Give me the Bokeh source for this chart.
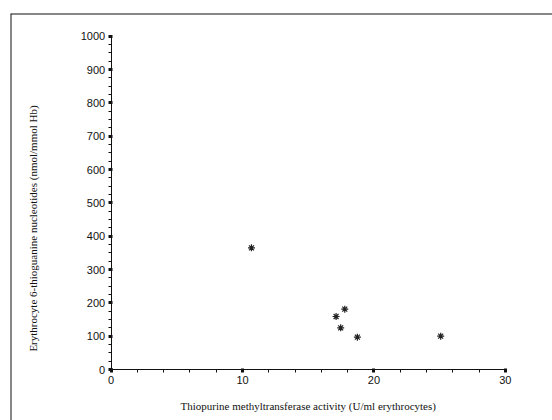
import math
from bokeh.plotting import figure
from bokeh.models import LinearAxis, Span, Label, FixedTicker, Range1d
from bokeh.embed import file_html
from bokeh.resources import INLINE

# Data
tpmt_activity = [10.68, 17.78, 17.12, 17.47, 18.74, 25.08]
tgn_levels = [365, 181, 159, 125, 97, 100]
x_ticks = [0, 10, 20, 30]
y_ticks = [0, 100, 200, 300, 400, 500, 600, 700, 800, 900, 1000]
x_minor = [v for v in range(0, 31, 2) if v % 10]
y_minor = [v for v in range(0, 1001, 25) if v % 100]

x_title = "Thiopurine methyltransferase activity (U/ml erythrocytes)"
y_title = "Erythrocyte 6-thioguanine nucleotides (nmol/mmol Hb)"

p = figure(width=552, height=420, output_backend="svg", toolbar_location=None,
           x_range=Range1d(-7.66, 33.59), y_range=Range1d(-153, 1068),
           x_axis_location=None, y_axis_location=None,
           min_border_left=10, min_border_top=13, min_border_right=0, min_border_bottom=0)
p.outline_line_color = None
p.xgrid.visible = False
p.ygrid.visible = False
p.background_fill_color = None
p.border_fill_color = None

def style_axis(ax):
    ax.axis_line_color = "#111111"
    ax.axis_line_width = 1
    ax.major_tick_line_color = "#111111"
    ax.major_tick_line_width = 3
    ax.major_tick_in = 1
    ax.major_tick_out = 3
    ax.minor_tick_line_color = "#111111"
    ax.minor_tick_line_width = 1
    ax.minor_tick_in = 0
    ax.minor_tick_out = 3
    ax.major_label_text_font = "Liberation Sans"
    ax.major_label_text_font_size = "11px"
    ax.major_label_text_color = "#111111"

xaxis = LinearAxis(fixed_location=0, bounds=(0, 30),
                   ticker=FixedTicker(ticks=x_ticks, minor_ticks=x_minor))
style_axis(xaxis)
xaxis.major_label_standoff = 3
p.add_layout(xaxis, "below")

yaxis = LinearAxis(fixed_location=0, bounds=(0, 1000),
                   ticker=FixedTicker(ticks=y_ticks, minor_ticks=y_minor))
style_axis(yaxis)
yaxis.major_label_standoff = 3
p.add_layout(yaxis, "left")

# border lines (left and top of the panel)
p.add_layout(Span(location=-7.66, dimension="height", line_color="#111111", line_width=2))
p.add_layout(Span(location=1068, dimension="width", line_color="#111111", line_width=2))

p.scatter(tpmt_activity, tgn_levels, marker="asterisk", size=7,
          line_color="#222222", line_width=1.2)

p.add_layout(Label(x=15, y=-108, text=x_title, text_align="center", text_baseline="middle",
                   text_font="Liberation Serif", text_font_size="11px", text_color="#111111"))
p.add_layout(Label(x=-5.91, y=423, text=y_title, text_align="center", text_baseline="middle",
                   angle=math.pi / 2, text_font="Liberation Serif", text_font_size="11px",
                   text_color="#111111"))

open("out.html", "w").write(file_html(p, INLINE))
